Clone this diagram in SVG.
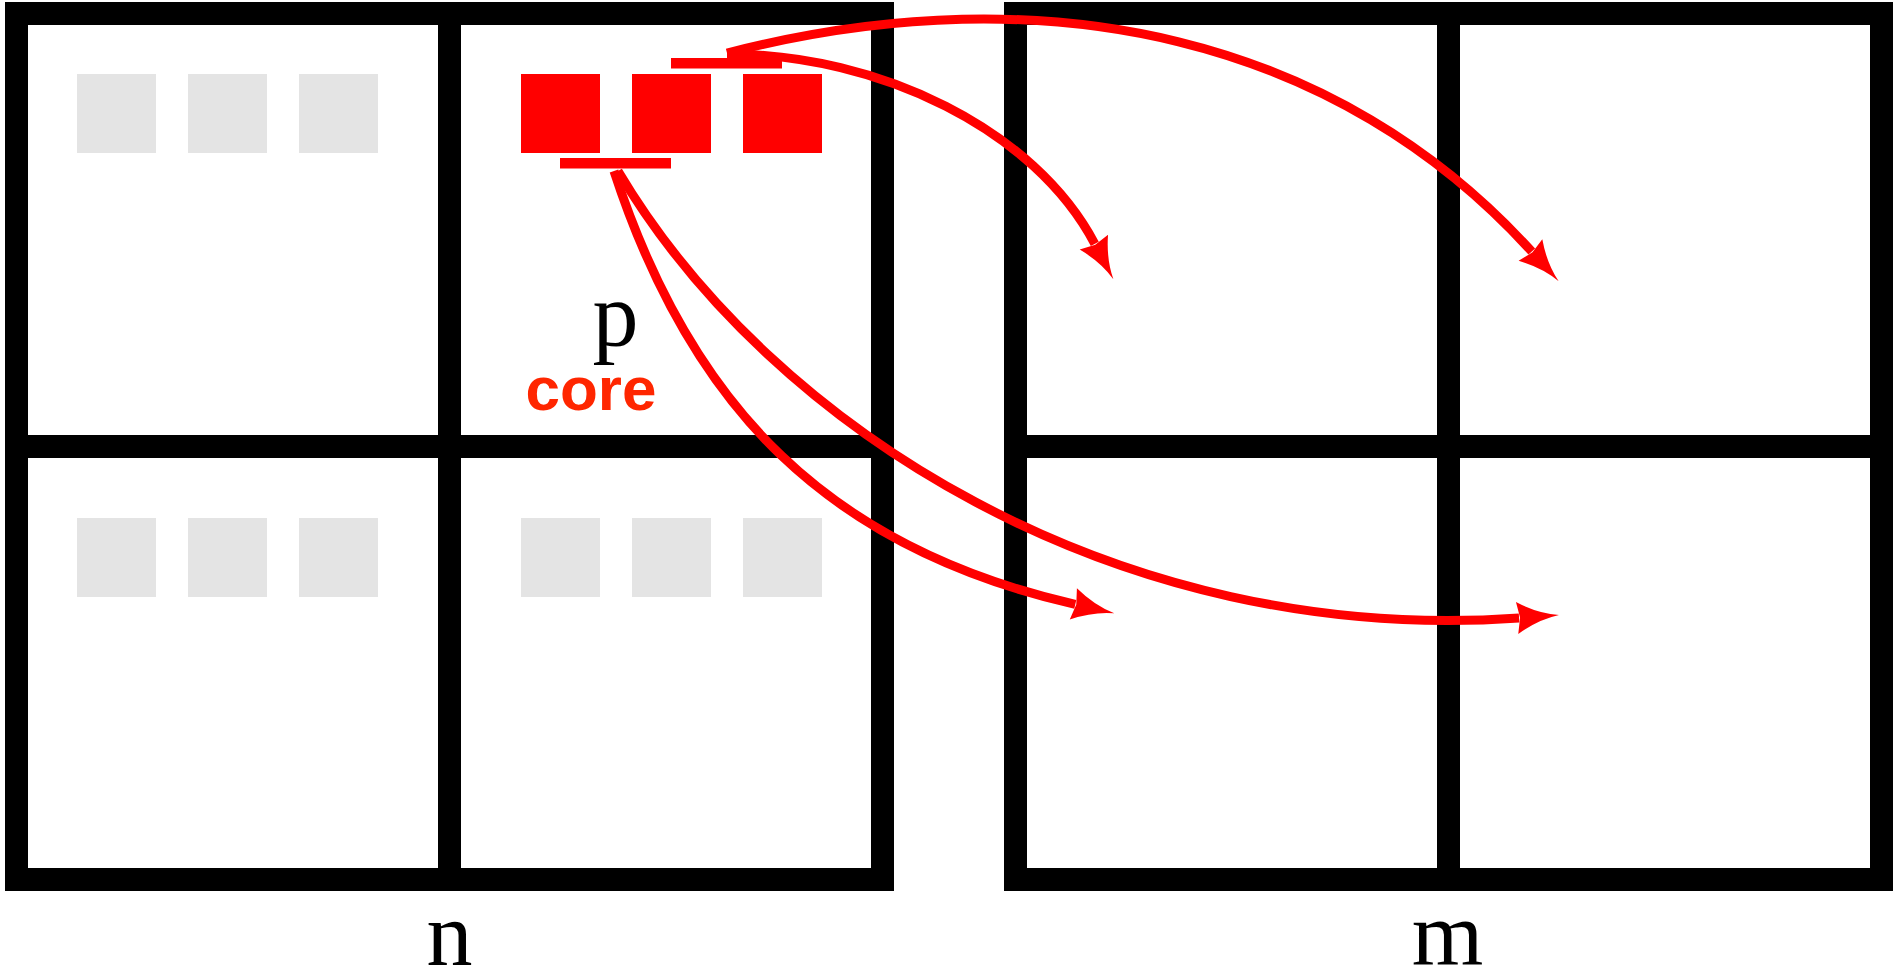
<svg xmlns="http://www.w3.org/2000/svg" width="1896" height="974" viewBox="0 0 1896 974">
  <style>
    .frame { fill: none; stroke: #000; stroke-width: 23; }
    .divider { stroke: #000; stroke-width: 23; }
    .slot { fill: #e4e4e4; }
    .active { fill: #ff0000; }
    .bar { fill: #ff0000; }
    .link { fill: none; stroke: #ff0000; stroke-width: 9; marker-end: url(#head); }
    .math { font-family: "Liberation Serif", "DejaVu Serif", serif; font-size: 92px; fill: #000; text-anchor: middle; }
    .tag { font-family: "Liberation Sans", Arial, sans-serif; font-weight: bold; font-size: 62px; fill: #ff2600; text-anchor: middle; }
  </style>
  <defs>
    <marker id="head" markerUnits="userSpaceOnUse" viewBox="-2 -20 50 40" markerWidth="50" markerHeight="40" refX="2" refY="0" orient="auto" overflow="visible">
      <path d="M42,0 Q21,3 0,16 L3,0 L0,-16 Q21,-3 42,0 Z" fill="#ff0000"/>
    </marker>
  </defs>

  <rect width="1896" height="974" fill="#fff"/>

  <!-- node n: 2x2 grid of cells -->
  <g id="node-n">
    <rect class="frame" x="16.5" y="13.5" width="866" height="866"/>
    <line class="divider" x1="449.5" y1="13.5" x2="449.5" y2="879.5"/>
    <line class="divider" x1="16.5" y1="446.5" x2="882.5" y2="446.5"/>
    <!-- idle slots -->
    <rect class="slot" x="77" y="74" width="79" height="79"/>
    <rect class="slot" x="188" y="74" width="79" height="79"/>
    <rect class="slot" x="299" y="74" width="79" height="79"/>
    <rect class="slot" x="77" y="518" width="79" height="79"/>
    <rect class="slot" x="188" y="518" width="79" height="79"/>
    <rect class="slot" x="299" y="518" width="79" height="79"/>
    <rect class="slot" x="521" y="518" width="79" height="79"/>
    <rect class="slot" x="632" y="518" width="79" height="79"/>
    <rect class="slot" x="743" y="518" width="79" height="79"/>
    <text class="math" x="449.5" y="965">n</text>
  </g>

  <!-- core p with its busy slots -->
  <g id="core-p">
    <rect class="active" x="521" y="74" width="79" height="79"/>
    <rect class="active" x="632" y="74" width="79" height="79"/>
    <rect class="active" x="743" y="74" width="79" height="79"/>
    <rect class="bar" x="671" y="58" width="111" height="10.5"/>
    <rect class="bar" x="560" y="158" width="111" height="10.5"/>
    <text class="math" x="615.5" y="346">p</text>
    <text class="tag" x="591" y="410">core</text>
  </g>

  <!-- node m: 2x2 grid of cells -->
  <g id="node-m">
    <rect class="frame" x="1015.5" y="13.5" width="866" height="866"/>
    <line class="divider" x1="1448.5" y1="13.5" x2="1448.5" y2="879.5"/>
    <line class="divider" x1="1015.5" y1="446.5" x2="1881.5" y2="446.5"/>
    <text class="math" x="1447.5" y="965">m</text>
  </g>

  <!-- connectors -->
  <g id="links">
    <path class="link" d="M727,54 C880,54 1035,130 1094.8,243.9"/>
    <path class="link" d="M727,53 C1050,-30 1340,40 1531.8,251.6"/>
    <path class="link" d="M614,171 C691.5,408.5 829,548 1075.3,604.4"/>
    <path class="link" d="M618,171 C771,429 1118,646.8 1519.1,617.9"/>
  </g>
</svg>
